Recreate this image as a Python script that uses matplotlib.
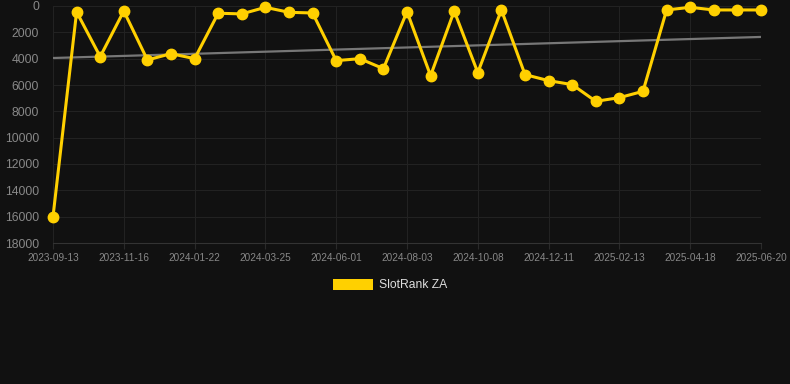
import matplotlib
matplotlib.use("Agg")
import matplotlib.pyplot as plt
import numpy as np

tick_labels = ["2023-09-13", "2023-11-16", "2024-01-22", "2024-03-25", "2024-06-01",
               "2024-08-03", "2024-10-08", "2024-12-11", "2025-02-13", "2025-04-18",
               "2025-06-20"]
values = [16000, 450, 3850, 380, 4100, 3620, 4000, 550, 600, 100, 480, 530,
          4150, 4000, 4760, 430, 5290, 380, 5060, 300, 5210, 5670, 5970, 7240,
          6960, 6480, 300, 100, 300, 300, 300]
trend_ends = [3950, 2350]
series_name = "SlotRank ZA"

plt.rcParams['font.family'] = ['Liberation Sans', 'DejaVu Sans']
bg = "#111111"
fig = plt.figure(figsize=(7.9, 3.84), dpi=100, facecolor=bg)
ax = fig.add_axes([53/790, 1-243/384, 708/790, 237/384], facecolor=bg)

x = np.arange(len(values))
ax.plot([x[0], x[-1]], trend_ends, color="#777777", lw=1.6, zorder=2)
line, = ax.plot(x, values, color="#FFD000", lw=2.2, marker="o", ms=7.5,
                zorder=3, clip_on=False)

ax.set_xlim(0, len(values)-1)
ax.set_ylim(18000, 0)
ax.set_yticks(np.arange(0, 18001, 2000))
ax.set_xticks(x[::3])
ax.set_xticklabels(tick_labels)
ax.tick_params(axis='y', colors="#888888", labelsize=8.8, length=0, pad=10)
ax.tick_params(axis='x', colors="#2a2a2a", labelcolor="#888888", labelsize=7.2, length=4, pad=3)
ax.grid(True, color="#222222", lw=0.8)
for s in ["top", "right", "left"]:
    ax.spines[s].set_visible(False)
ax.spines["bottom"].set_color("#333333")

from matplotlib.patches import Rectangle
fig.patches.append(Rectangle((333/790, 1-290/384), 40/790, 11/384,
                             transform=fig.transFigure, facecolor="#FFD000",
                             edgecolor="none"))
fig.text(379/790, 1-285/384, series_name, color="#dddddd", fontsize=8.7,
         va="center", ha="left")

fig.savefig("out.png", dpi=100, facecolor=bg)
